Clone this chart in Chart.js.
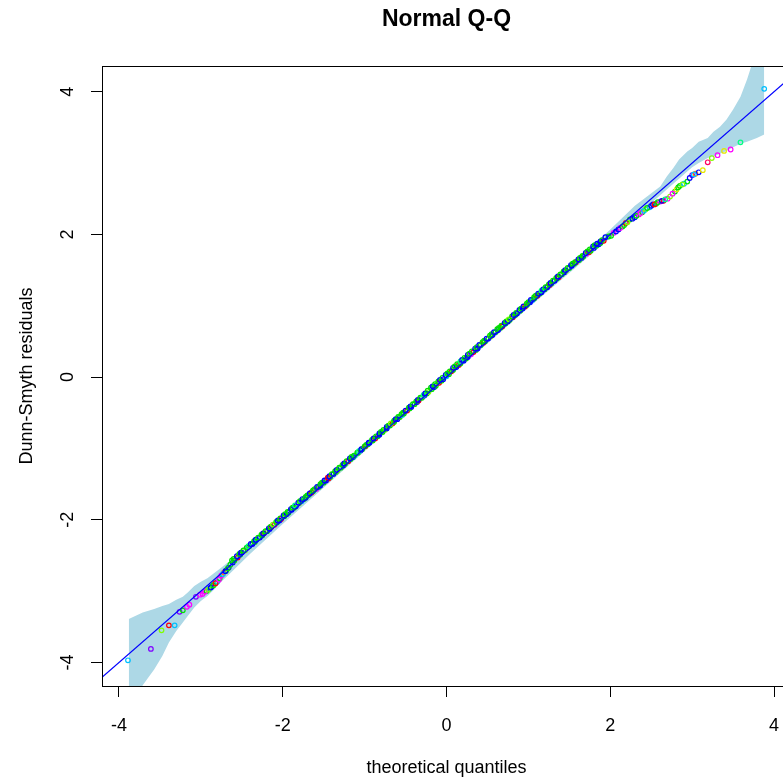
<!DOCTYPE html>
<html>
<head>
<meta charset="utf-8">
<title>Normal Q-Q</title>
<script src="https://cdn.jsdelivr.net/npm/chart.js@4.4.1/dist/chart.umd.min.js"></script>
<style>
  html, body { margin: 0; padding: 0; background: #fff; overflow: hidden; }
  #wrap { width: 800px; height: 780px; }
</style>
</head>
<body>
<div id="wrap"><canvas id="qq" width="800" height="780"></canvas></div>
<script>
// Dados ------------------------------------------

// quantis teoricos (eixo x) e residuos Dunn-Smyth (eixo y)
const quantisTeoricos = [
  // cauda inferior
  -3.89, -3.61, -3.48, -3.39, -3.32, -3.26, -3.22, -3.17, -3.14, -3.06, -3.01,
  -2.98, -2.93, -2.90, -2.87, -2.84, -2.80, -2.77, -2.75, -2.72, -2.69, -2.66,
  // meio
  -2.64, -2.61, -2.59, -2.55, -2.52, -2.50, -2.46, -2.43, -2.41, -2.37,
  -2.34, -2.32, -2.28, -2.25, -2.23, -2.19, -2.16, -2.14, -2.10, -2.07,
  -2.04, -2.02, -1.98, -1.95, -1.93, -1.89, -1.86, -1.84, -1.80, -1.77,
  -1.74, -1.72, -1.68, -1.65, -1.63, -1.59, -1.56, -1.54, -1.50, -1.47,
  -1.44, -1.42, -1.38, -1.35, -1.33, -1.29, -1.26, -1.24, -1.20, -1.17,
  -1.14, -1.12, -1.08, -1.05, -1.03, -0.99, -0.96, -0.94, -0.90, -0.87,
  -0.84, -0.82, -0.78, -0.75, -0.73, -0.69, -0.66, -0.64, -0.60, -0.57,
  -0.54, -0.52, -0.48, -0.45, -0.43, -0.39, -0.36, -0.34, -0.30, -0.27,
  -0.24, -0.22, -0.18, -0.15, -0.13, -0.09, -0.06, -0.04, 0.00, 0.03,
  0.06, 0.08, 0.12, 0.15, 0.17, 0.21, 0.24, 0.26, 0.30, 0.33,
  0.36, 0.38, 0.42, 0.45, 0.47, 0.51, 0.54, 0.56, 0.60, 0.63,
  0.66, 0.68, 0.72, 0.75, 0.77, 0.81, 0.84, 0.86, 0.90, 0.93,
  0.96, 0.98, 1.02, 1.05, 1.07, 1.11, 1.14, 1.16, 1.20, 1.23,
  1.26, 1.28, 1.32, 1.35, 1.37, 1.41, 1.44, 1.46, 1.50, 1.53,
  1.56, 1.58, 1.62, 1.65, 1.67, 1.71, 1.74, 1.76, 1.80, 1.83,
  1.86, 1.88, 1.92,
  // cauda superior
  1.98, 2.04, 2.10, 2.15, 2.19, 2.24, 2.30, 2.35, 2.39, 2.43, 2.48,
  2.52, 2.56, 2.61, 2.65, 2.70, 2.73, 2.79, 2.81, 2.85, 2.90, 2.94,
  3.00, 3.04, 3.08, 3.13, 3.19, 3.24, 3.31, 3.39, 3.47, 3.59, 3.88,
  // meio (segunda camada)
  -2.62, -2.60, -2.56, -2.53, -2.51, -2.48, -2.44, -2.42, -2.39, -2.35,
  -2.33, -2.30, -2.26, -2.24, -2.21, -2.17, -2.15, -2.12, -2.08, -2.06,
  -2.03, -1.99, -1.97, -1.94, -1.90, -1.88, -1.85, -1.81, -1.79, -1.76,
  -1.72, -1.70, -1.67, -1.63, -1.61, -1.58, -1.54, -1.52, -1.49, -1.45,
  -1.43, -1.40, -1.36, -1.34, -1.31, -1.27, -1.25, -1.22, -1.18, -1.16,
  -1.13, -1.09, -1.07, -1.04, -1.00, -0.98, -0.95, -0.91, -0.89, -0.86,
  -0.82, -0.80, -0.77, -0.73, -0.71, -0.68, -0.64, -0.62, -0.59, -0.55,
  -0.53, -0.50, -0.46, -0.44, -0.41, -0.37, -0.35, -0.32, -0.28, -0.26,
  -0.23, -0.19, -0.17, -0.14, -0.10, -0.08, -0.05, -0.01, 0.01, 0.04,
  0.08, 0.10, 0.13, 0.17, 0.19, 0.22, 0.26, 0.28, 0.31, 0.35,
  0.37, 0.40, 0.44, 0.46, 0.49, 0.53, 0.55, 0.58, 0.62, 0.64,
  0.67, 0.71, 0.73, 0.76, 0.80, 0.82, 0.85, 0.89, 0.91, 0.94,
  0.98, 1.00, 1.03, 1.07, 1.09, 1.12, 1.16, 1.18, 1.21, 1.25,
  1.27, 1.30, 1.34, 1.36, 1.39, 1.43, 1.45, 1.48, 1.52, 1.54,
  1.57, 1.61, 1.63, 1.66, 1.70, 1.72, 1.75, 1.79, 1.81, 1.84,
  1.88, 1.90, 1.94,
  // cauda superior (segunda camada)
  2.01, 2.07, 2.12, 2.17, 2.21, 2.27, 2.32, 2.37, 2.41, 2.45,
  2.50, 2.54, 2.58, 2.63, 2.67, 2.76, 2.83, 2.88, 2.97, 3.02,
  // cauda inferior (segunda camada)
  -2.95, -2.91, -2.88, -2.85, -2.82, -2.78, -2.73, -2.70, -2.67
]

const residuos = [
  -3.97, -3.81, -3.55, -3.48, -3.48, -3.29, -3.27, -3.22, -3.19, -3.08, -3.05,
  -3.04, -3.00, -2.97, -2.94, -2.91, -2.87, -2.82, -2.78, -2.74, -2.71, -2.67,

  -2.63, -2.60, -2.57, -2.53, -2.49, -2.46, -2.43, -2.39, -2.37, -2.34,
  -2.31, -2.28, -2.25, -2.22, -2.19, -2.16, -2.13, -2.10, -2.07, -2.04,
  -2.01, -1.99, -1.95, -1.92, -1.90, -1.86, -1.83, -1.81, -1.77, -1.74,
  -1.71, -1.69, -1.65, -1.62, -1.60, -1.57, -1.54, -1.52, -1.48, -1.45,
  -1.42, -1.40, -1.36, -1.33, -1.31, -1.27, -1.24, -1.22, -1.18, -1.15,
  -1.12, -1.10, -1.06, -1.03, -1.01, -0.97, -0.94, -0.92, -0.89, -0.86,
  -0.83, -0.81, -0.77, -0.74, -0.72, -0.68, -0.65, -0.63, -0.59, -0.56,
  -0.53, -0.51, -0.47, -0.44, -0.42, -0.38, -0.35, -0.33, -0.29, -0.26,
  -0.23, -0.21, -0.17, -0.14, -0.12, -0.08, -0.05, -0.03, 0.01, 0.04,
  0.08, 0.10, 0.14, 0.17, 0.19, 0.23, 0.26, 0.28, 0.32, 0.35,
  0.38, 0.40, 0.45, 0.48, 0.50, 0.54, 0.57, 0.59, 0.63, 0.66,
  0.69, 0.71, 0.75, 0.78, 0.80, 0.84, 0.87, 0.89, 0.93, 0.96,
  0.99, 1.01, 1.05, 1.08, 1.10, 1.14, 1.17, 1.19, 1.23, 1.26,
  1.29, 1.31, 1.35, 1.38, 1.40, 1.44, 1.47, 1.49, 1.53, 1.56,
  1.59, 1.61, 1.64, 1.67, 1.69, 1.73, 1.75, 1.77, 1.81, 1.84,
  1.86, 1.88, 1.91,

  1.97, 2.02, 2.07, 2.11, 2.16, 2.21, 2.24, 2.28, 2.31, 2.35, 2.38,
  2.42, 2.43, 2.46, 2.47, 2.50, 2.53, 2.60, 2.63, 2.68, 2.71, 2.74,
  2.83, 2.85, 2.87, 2.90, 3.01, 3.07, 3.11, 3.17, 3.19, 3.29, 4.04,

  -2.57, -2.55, -2.51, -2.48, -2.46, -2.43, -2.39, -2.37, -2.34, -2.30,
  -2.28, -2.25, -2.21, -2.19, -2.16, -2.12, -2.10, -2.07, -2.03, -2.01,
  -1.98, -1.94, -1.92, -1.89, -1.85, -1.83, -1.80, -1.76, -1.74, -1.71,
  -1.68, -1.66, -1.63, -1.59, -1.57, -1.54, -1.50, -1.48, -1.45, -1.41,
  -1.39, -1.36, -1.32, -1.30, -1.27, -1.23, -1.21, -1.18, -1.14, -1.12,
  -1.10, -1.06, -1.04, -1.01, -0.97, -0.95, -0.92, -0.88, -0.86, -0.83,
  -0.79, -0.77, -0.74, -0.70, -0.68, -0.65, -0.61, -0.59, -0.56, -0.52,
  -0.50, -0.47, -0.43, -0.41, -0.38, -0.34, -0.32, -0.29, -0.25, -0.23,
  -0.19, -0.15, -0.13, -0.10, -0.06, -0.04, -0.01, 0.03, 0.05, 0.08,
  0.13, 0.15, 0.18, 0.22, 0.24, 0.27, 0.31, 0.33, 0.36, 0.40,
  0.42, 0.45, 0.49, 0.51, 0.54, 0.58, 0.60, 0.63, 0.67, 0.69,
  0.72, 0.76, 0.78, 0.81, 0.85, 0.87, 0.90, 0.94, 0.96, 0.99,
  1.03, 1.05, 1.08, 1.12, 1.14, 1.17, 1.21, 1.23, 1.26, 1.30,
  1.32, 1.35, 1.39, 1.41, 1.44, 1.48, 1.50, 1.53, 1.57, 1.59,
  1.61, 1.65, 1.67, 1.70, 1.74, 1.76, 1.79, 1.83, 1.85, 1.87,
  1.90, 1.92, 1.96,

  1.98, 2.04, 2.09, 2.13, 2.17, 2.22, 2.26, 2.30, 2.33, 2.37,
  2.40, 2.42, 2.45, 2.47, 2.49, 2.57, 2.66, 2.70, 2.79, 2.84,

  -3.01, -2.98, -2.95, -2.92, -2.89, -2.84, -2.76, -2.72, -2.68
]

// grupo de cada ponto (indice hexadecimal na paleta)
const grupos = (
  '6930694aa9aa458364a148' +
  '4840483a4846840480b480484848364' +
  '8404a4848048434840486484048404' +
  '8438404846404848048434840486404' +
  '804848a048404838484048404848048' +
  '6404848048404834840484a0484840' +
  '4a84048a43684a0a342464' + '9182b3a2a56' +
  '4484844584844848434848448458484484484480' +
  '8448448484445844848484484348444848448458' +
  '4484484844844584844848448448444843484848' +
  '448448584484484484844844844848' + '848' +
  '48a4384a6480485a4386' +
  'a3840a684'
).split('').map(c => parseInt(c, 16))

// envelope de confianca (faixa azul clara)
const faixaX = [
  -3.88, -3.71, -3.57, -3.47, -3.39, -3.30, -3.22, -3.16, -3.08, -3.00, -2.92,
  -2.84, -2.76, -2.66, -2.40, -2.00, -1.50, -1.00, -0.50, 0.00, 0.50, 1.00,
  1.50, 2.00, 2.30, 2.61, 2.69, 2.77, 2.84, 2.94, 3.00, 3.08, 3.19, 3.26,
  3.34, 3.42, 3.50, 3.59, 3.67, 3.79, 3.88
]
const faixaInf = [
  -4.90, -4.32, -4.10, -3.91, -3.72, -3.56, -3.44, -3.35, -3.23, -3.14, -3.07,
  -2.98, -2.88, -2.77, -2.48, -2.06, -1.55, -1.04, -0.53, -0.03, 0.47, 0.97,
  1.46, 1.95, 2.24, 2.55, 2.63, 2.71, 2.78, 2.88, 2.94, 3.00, 3.07, 3.09,
  3.13, 3.17, 3.22, 3.27, 3.30, 3.35, 3.40
]
const faixaSup = [
  -3.39, -3.30, -3.25, -3.21, -3.18, -3.12, -3.08, -3.02, -2.93, -2.87, -2.82,
  -2.75, -2.68, -2.59, -2.35, -1.96, -1.46, -0.96, -0.46, 0.03, 0.53, 1.04,
  1.55, 2.07, 2.40, 2.67, 2.81, 2.93, 3.05, 3.16, 3.21, 3.30, 3.35, 3.44,
  3.51, 3.61, 3.75, 3.93, 4.17, 4.60, 5.00
]

// reta de referencia: intercepto e inclinacao
const retaQQ = [0, 1]

const ticksX = [-4, -2, 0, 2, 4]
const ticksY = [-4, -2, 0, 2, 4]

// Estilo -------------------------

const paleta = [
  '#FF0000', '#FF8000', '#E6E600', '#80FF00', '#00E000', '#00FF80',
  '#00C0FF', '#0080FF', '#0000FF', '#8000FF', '#FF00FF', '#FF0060'
]
const fonte = "'Liberation Sans', Arial, sans-serif"

// Plugin que desenha a moldura, rotulos do eixo y e os titulos
const textosR = {
  id: 'textosR',
  afterDraw(chart) {
    const { ctx, chartArea: a, scales } = chart
    ctx.save()
    ctx.strokeStyle = '#000'
    ctx.lineWidth = 1
    ctx.strokeRect(a.left + 0.5, a.top + 0.5, a.right - a.left, a.bottom - a.top)

    ctx.fillStyle = '#000'
    ctx.textAlign = 'center'
    ctx.textBaseline = 'middle'

    // titulo principal
    ctx.font = `bold 23px ${fonte}`
    ctx.fillText('Normal Q-Q', (a.left + a.right) / 2, 20)

    // titulo do eixo x
    ctx.font = `18px ${fonte}`
    ctx.fillText('theoretical quantiles', (a.left + a.right) / 2, 768)

    // rotulos do eixo y (rotacionados, como no R)
    ticksY.forEach(v => {
      ctx.save()
      ctx.translate(68, scales.y.getPixelForValue(v))
      ctx.rotate(-Math.PI / 2)
      ctx.fillText(String(v), 0, 0)
      ctx.restore()
    })

    // titulo do eixo y
    ctx.save()
    ctx.translate(27, (a.top + a.bottom) / 2)
    ctx.rotate(-Math.PI / 2)
    ctx.fillText('Dunn-Smyth residuals', 0, 0)
    ctx.restore()

    ctx.restore()
  }
}

const pontos = quantisTeoricos.map((q, i) => ({ x: q, y: residuos[i] }))
const xMin = -4.207, xMax = 4.207

var grafico = new Chart(document.getElementById('qq'), {
  type: 'line',
  data: {
    datasets: [
      {
        label: 'envelope inferior',
        data: faixaX.map((x, i) => ({ x: x, y: faixaInf[i] })),
        borderWidth: 0,
        borderColor: 'rgba(0,0,0,0)',
        pointRadius: 0,
        fill: false,
        order: 3
      },
      {
        label: 'envelope superior',
        data: faixaX.map((x, i) => ({ x: x, y: faixaSup[i] })),
        borderWidth: 0,
        borderColor: 'rgba(0,0,0,0)',
        backgroundColor: '#ADD8E6',
        pointRadius: 0,
        fill: '-1',
        order: 3
      },
      {
        label: 'residuos',
        data: pontos,
        showLine: false,
        pointRadius: 2.3,
        pointBorderWidth: 1.2,
        pointBackgroundColor: 'rgba(0,0,0,0)',
        pointBorderColor: grupos.map(g => paleta[g]),
        order: 2
      },
      {
        label: 'reta',
        data: [xMin, xMax].map(x => ({ x: x, y: retaQQ[0] + retaQQ[1] * x })),
        borderColor: '#0000FF',
        borderWidth: 1.2,
        pointRadius: 0,
        fill: false,
        order: 1
      }
    ]
  },
  options: {
    responsive: false,
    devicePixelRatio: 1,
    animation: false,
    layout: { padding: { top: 66, right: 9, bottom: 0, left: 0 } },
    plugins: {
      legend: { display: false },
      tooltip: { enabled: false },
      title: { display: false }
    },
    scales: {
      x: {
        type: 'linear',
        min: xMin,
        max: xMax,
        afterBuildTicks: s => { s.ticks = ticksX.map(v => ({ value: v })) },
        afterFit: s => { s.height = 94 },
        grid: { display: true, drawOnChartArea: false, drawTicks: true, tickLength: 11, color: '#000', lineWidth: 1 },
        border: { display: true, color: '#000', width: 1 },
        ticks: {
          color: '#000',
          padding: 18,
          maxRotation: 0,
          font: { family: fonte, size: 18 },
          callback: v => String(v)
        }
      },
      y: {
        type: 'linear',
        min: -4.33,
        max: 4.36,
        afterBuildTicks: s => { s.ticks = ticksY.map(v => ({ value: v })) },
        afterFit: s => { s.width = 102 },
        grid: { display: true, drawOnChartArea: false, drawTicks: true, tickLength: 11, color: '#000', lineWidth: 1 },
        border: { display: true, color: '#000', width: 1 },
        ticks: { color: 'rgba(0,0,0,0)', font: { family: fonte, size: 18 } }
      }
    }
  },
  plugins: [textosR]
})
</script>
</body>
</html>
